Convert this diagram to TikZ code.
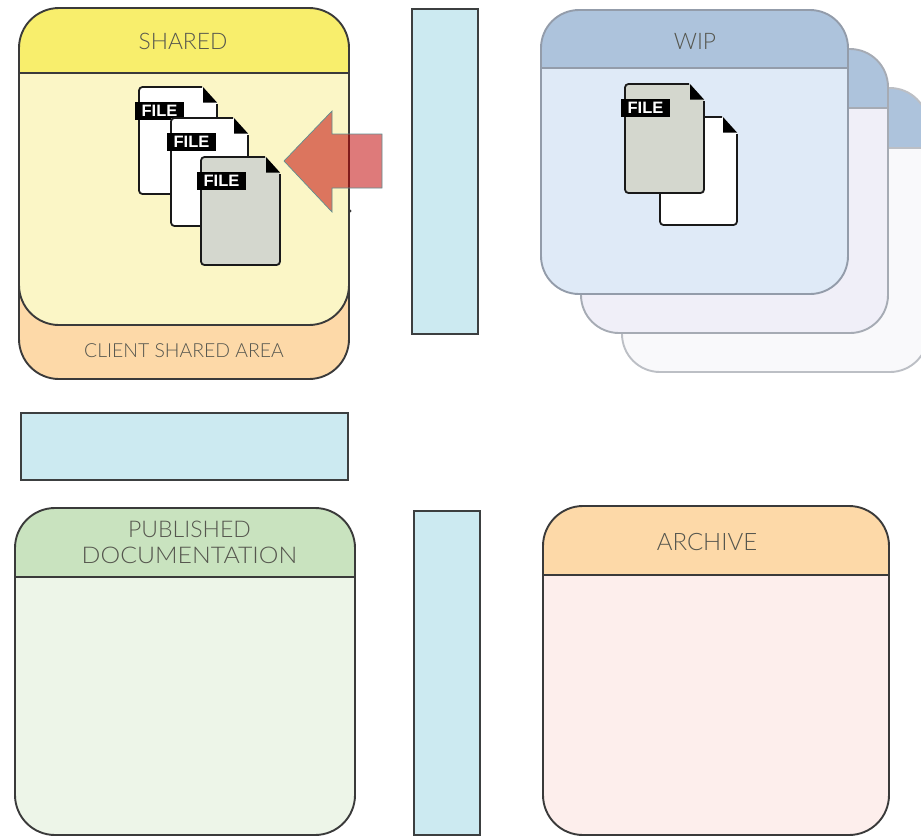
\documentclass[tikz,border=0pt]{standalone}
\usepackage{fontspec}
\setmainfont{Lato Light}[BoldFont=Lato Bold]
\newfontfamily\filefont{Liberation Sans}[Scale=1]
\tikzset{
  panellabel/.style={text=labelgrey,font=\fontsize{22.8}{26}\selectfont,align=center,inner sep=0pt},
  bluebar/.style={draw=barline,fill=barblue,line width=2.4pt},
  filelabel/.style={fill=black,text=white,font=\filefont\bfseries\fontsize{16.5}{16.5}\selectfont,inner sep=0pt,minimum width=49pt,minimum height=18pt},
  arrowshape/.style={fill=arrowred,fill opacity=.52,draw=arrowteal,line width=.7pt}
}
\definecolor{labelgrey}{HTML}{55564E}
\definecolor{darkline}{HTML}{3A3A3A}
\definecolor{barline}{HTML}{3C3F40}
\definecolor{barblue}{HTML}{CCEAF1}
\definecolor{arrowred}{HTML}{C00000}
\definecolor{arrowteal}{HTML}{5F8F90}
\definecolor{fileshade}{HTML}{D4D7CE}
\definecolor{sharedhead}{HTML}{F8EE6C}
\definecolor{sharedbody}{HTML}{FBF6C6}
\definecolor{clienthead}{HTML}{FDD9A8}
\definecolor{pubhead}{HTML}{C9E3BF}
\definecolor{pubbody}{HTML}{EDF5E8}
\definecolor{archbody}{HTML}{FDEEEC}
\definecolor{wiphead}{HTML}{ADC3DC}
\definecolor{wipbody}{HTML}{DFEAF7}
\definecolor{wipbodyb}{HTML}{F0EFF8}
\definecolor{wipbodyc}{HTML}{F9F9FB}
\definecolor{wipline}{HTML}{939CAA}
\definecolor{wiplineb}{HTML}{A6ABB4}
\definecolor{wiplinec}{HTML}{BCBFC5}
% x1 y1 x2 y2 bar radius head body line
\newcommand{\panelbox}[9]{%
  \fill[#8,rounded corners=#6pt] (#1,#2) rectangle (#3,#4);
  \begin{scope}
    \clip (#1-5,#2-5) rectangle (#3+5,#5);
    \fill[#7,rounded corners=#6pt] (#1,#2) rectangle (#3,#4);
  \end{scope}
  \draw[#9,line width=1.9pt] (#1,#5) -- (#3,#5);
  \draw[#9,line width=1.9pt,rounded corners=#6pt] (#1,#2) rectangle (#3,#4);
}
% name x y fill width height
\newcommand{\fileicon}[6]{%
  \begin{scope}[shift={(#2,#3)}]
    \fill[#4] (0,0) -- (#5-14,0) -- (#5,16) -- (#5,#6) -- (0,#6) -- cycle;
    \draw[black!90,line width=1.8pt,rounded corners=3.5pt] (#5-15,0) -- (0,0) -- (0,#6) -- (#5,#6) -- (#5,17);
    \fill[black] (#5-14,0) -- (#5,15.5) -- (#5-14,15.5) -- cycle;
    \node[filelabel] (#1) at (20.5,24) {FILE};
  \end{scope}
}
\begin{document}
\begin{tikzpicture}[x=1pt,y=-1pt]
\useasboundingbox (0,0) rectangle (921,836);
\clip (0,0) rectangle (921,836);
% WIP stack
\panelbox{622}{88}{928}{372}{148}{38}{wiphead}{wipbodyc}{wiplinec}
\panelbox{581}{49}{888}{333}{108}{38}{wiphead}{wipbodyb}{wiplineb}
\panelbox{541}{10}{848}{294}{68}{38}{wiphead}{wipbody}{wipline}
\node[panellabel] (wiplabel) at (695,41) {WIP};
\fileicon{wipback}{660}{117}{white}{77}{108}
\fileicon{wipfront}{625}{84}{fileshade}{79}{109}
% Client shared + shared
\panelbox{19}{250}{349}{379}{250}{40}{clienthead}{clienthead}{darkline}
\panelbox{19}{8}{349}{325}{73}{40}{sharedhead}{sharedbody}{darkline}
\node[panellabel] (sharedlabel) at (183,41) {SHARED};
\node[panellabel,font=\fontsize{19.4}{24}\selectfont] (clientlabel) at (184,351) {CLIENT SHARED AREA};
\fileicon{filea}{139}{87}{white}{78}{107}
\fileicon{fileb}{171}{118}{white}{77}{108}
\fileicon{filec}{201}{157}{fileshade}{79}{108}
\fill[darkline] (350,211) circle (1.6);
% Arrow
\draw[arrowshape] (284,161) -- (332,111) -- (332,134) -- (382,134) -- (382,188) -- (332,188) -- (332,212) -- cycle;
% Blue bars
\draw[bluebar] (412,9) rectangle (478,334);
\draw[bluebar] (21,413) rectangle (348,480);
\draw[bluebar] (414,511) rectangle (480,835);
% Lower panels
\panelbox{15}{508}{355}{835}{577}{40}{pubhead}{pubbody}{darkline}
\node[panellabel,font=\fontsize{23}{26}\selectfont] (publabel) at (189.5,542.5) {PUBLISHED\\\scalebox{1.08}[1]{DOCUMENTATION}};
\panelbox{543}{506}{889}{835}{575}{40}{clienthead}{archbody}{darkline}
\node[panellabel,font=\fontsize{24}{26}\selectfont] (archlabel) at (707,542) {ARCHIVE};
\end{tikzpicture}
\end{document}
